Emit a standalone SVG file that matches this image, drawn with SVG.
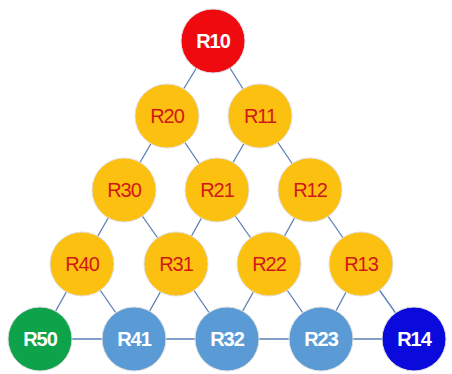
<svg xmlns="http://www.w3.org/2000/svg" width="452" height="374" viewBox="0 0 452 374">
<style>
.e{stroke:#5a7fb5;stroke-width:1.3;fill:none}
circle{stroke:#e0e0e0;stroke-width:1}
.y{fill:#fcc010}
text{font-family:"Liberation Sans",Arial,sans-serif;font-size:20px;text-anchor:middle;dominant-baseline:central;letter-spacing:-1px}
.ty{fill:#d01818}
.tw{fill:#ffffff;font-weight:bold}
</style>
<rect width="452" height="374" fill="#ffffff"/>
<g id="connectors">
<line class="e" x1="213" y1="41" x2="167" y2="116"/>
<line class="e" x1="213" y1="41" x2="260" y2="116"/>
<line class="e" x1="167" y1="116" x2="124" y2="190"/>
<line class="e" x1="167" y1="116" x2="217" y2="190"/>
<line class="e" x1="260" y1="116" x2="217" y2="190"/>
<line class="e" x1="260" y1="116" x2="310" y2="190"/>
<line class="e" x1="124" y1="190" x2="82" y2="264"/>
<line class="e" x1="124" y1="190" x2="176" y2="264"/>
<line class="e" x1="217" y1="190" x2="176" y2="264"/>
<line class="e" x1="217" y1="190" x2="269" y2="264"/>
<line class="e" x1="310" y1="190" x2="269" y2="264"/>
<line class="e" x1="310" y1="190" x2="361" y2="264"/>
<line class="e" x1="82" y1="264" x2="40" y2="339"/>
<line class="e" x1="82" y1="264" x2="134" y2="339"/>
<line class="e" x1="176" y1="264" x2="134" y2="339"/>
<line class="e" x1="176" y1="264" x2="227" y2="339"/>
<line class="e" x1="269" y1="264" x2="227" y2="339"/>
<line class="e" x1="269" y1="264" x2="321" y2="339"/>
<line class="e" x1="361" y1="264" x2="321" y2="339"/>
<line class="e" x1="361" y1="264" x2="414" y2="339"/>
<line class="e" x1="40" y1="339" x2="414" y2="339"/>
</g>
<g id="R10"><circle cx="213" cy="41" r="32" fill="#ee0a0f"/><text class="tw" x="213" y="41">R10</text></g>
<g id="R20"><circle class="y" cx="167" cy="116" r="32"/><text class="ty" x="167" y="116">R20</text></g>
<g id="R11"><circle class="y" cx="260" cy="116" r="32"/><text class="ty" x="260" y="116">R11</text></g>
<g id="R30"><circle class="y" cx="124" cy="190" r="32"/><text class="ty" x="124" y="190">R30</text></g>
<g id="R21"><circle class="y" cx="217" cy="190" r="32"/><text class="ty" x="217" y="190">R21</text></g>
<g id="R12"><circle class="y" cx="310" cy="190" r="32"/><text class="ty" x="310" y="190">R12</text></g>
<g id="R40"><circle class="y" cx="82" cy="264" r="32"/><text class="ty" x="82" y="264">R40</text></g>
<g id="R31"><circle class="y" cx="176" cy="264" r="32"/><text class="ty" x="176" y="264">R31</text></g>
<g id="R22"><circle class="y" cx="269" cy="264" r="32"/><text class="ty" x="269" y="264">R22</text></g>
<g id="R13"><circle class="y" cx="361" cy="264" r="32"/><text class="ty" x="361" y="264">R13</text></g>
<g id="R50"><circle cx="40" cy="339" r="32" fill="#0ea24a"/><text class="tw" x="40" y="339">R50</text></g>
<g id="R41"><circle cx="134" cy="339" r="32" fill="#5b9bd5"/><text class="tw" x="134" y="339">R41</text></g>
<g id="R32"><circle cx="227" cy="339" r="32" fill="#5b9bd5"/><text class="tw" x="227" y="339">R32</text></g>
<g id="R23"><circle cx="321" cy="339" r="32" fill="#5b9bd5"/><text class="tw" x="321" y="339">R23</text></g>
<g id="R14"><circle cx="414" cy="339" r="32" fill="#0a0adc"/><text class="tw" x="414" y="339">R14</text></g>
</svg>
